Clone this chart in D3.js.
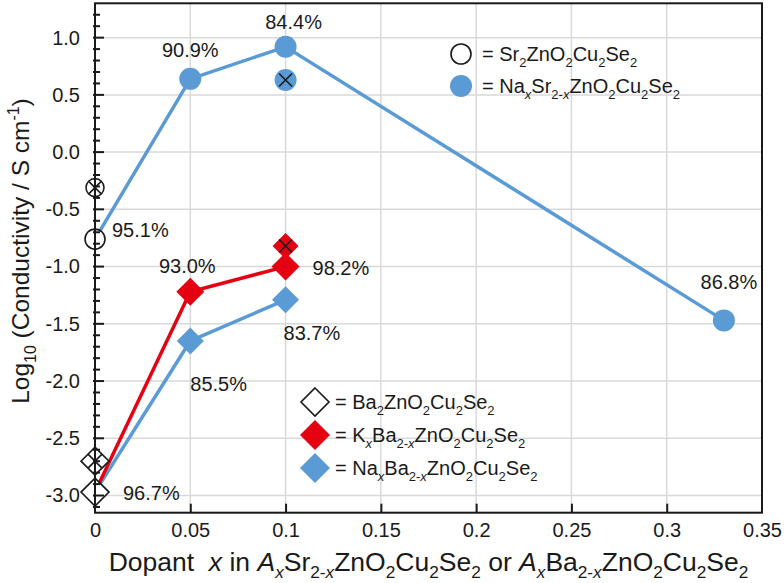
<!DOCTYPE html>
<html>
<head>
<meta charset="utf-8">
<script src="https://cdn.jsdelivr.net/npm/d3@7"></script>
<style>
  body { margin: 0; background: #fff; }
  text { font-family: "Liberation Sans", Arial, sans-serif; fill: #1a1a1a; white-space: pre; }
</style>
</head>
<body>
<div id="chart"></div>
<script>
// Sr compounds: x = 0 is undoped Sr2ZnO2Cu2Se2, the rest Na-doped
const srX = [0, 0.05, 0.1, 0.33];
const srY = [-0.76, 0.64, 0.92, -1.47];
const srPct = ["95.1%", "90.9%", "84.4%", "86.8%"];

// Ba compounds: x = 0 is undoped Ba2ZnO2Cu2Se2
const baX = [0, 0.05, 0.1];
const kBaY = [-2.97, -1.22, -1.0];
const kBaPct = ["96.7%", "93.0%", "98.2%"];
const naBaY = [-2.97, -1.65, -1.29];
const naBaPct = ["", "85.5%", "83.7%"];

// crossed symbols
const crossX = [0, 0.1, 0, 0.1];
const crossY = [-0.31, 0.63, -2.70, -0.82];
const crossKind = ["openCircle", "naCircle", "openDiamond", "kDiamond"];

// ticks
const xTicks = [0, 0.05, 0.1, 0.15, 0.2, 0.25, 0.3, 0.35];
const yTicks = [-3.0, -2.5, -2.0, -1.5, -1.0, -0.5, 0.0, 0.5, 1.0];

const W = 784, H = 583;
const blue = "#5b9bd5", red = "#e50012";

const svg = d3.select("#chart").append("svg")
    .attr("width", W)
    .attr("height", H);

const x = d3.scaleLinear().domain([0, 0.35]).range([95, 762]);
const y = d3.scaleLinear().domain([-3.15, 1.3]).range([512.7, 3.3]);

// rich text: parts are [text, kind], kind in "", "i", "sub", "subi", "sup"
function rich(sel, parts, size) {
    let shift = 0;
    parts.forEach(([t, kind]) => {
        const k = kind || "";
        const target = k.startsWith("sub") ? size * 0.28 : k === "sup" ? -size * 0.42 : 0;
        const ts = sel.append("tspan").text(t).attr("dy", target - shift);
        shift = target;
        if (k.startsWith("sub") || k === "sup") ts.attr("font-size", size * 0.65);
        if (k === "i" || k === "subi") ts.attr("font-style", "italic");
    });
}

// grid
svg.append("g")
    .selectAll("line")
    .data(xTicks.slice(1, -1))
    .join("line")
    .attr("x1", d => x(d)).attr("x2", d => x(d))
    .attr("y1", y(1.3)).attr("y2", y(-3.15))
    .attr("stroke", "#d9d9d9").attr("stroke-width", 1.5);

svg.append("g")
    .selectAll("line")
    .data(yTicks)
    .join("line")
    .attr("x1", x(0)).attr("x2", x(0.35))
    .attr("y1", d => y(d)).attr("y2", d => y(d))
    .attr("stroke", "#d9d9d9").attr("stroke-width", 1.5);

// lines
const line = d3.line().x(d => x(d[0])).y(d => y(d[1]));

svg.append("path")
    .datum(srX.map((v, i) => [v, srY[i]]))
    .attr("d", line)
    .attr("fill", "none").attr("stroke", blue).attr("stroke-width", 3.5);

svg.append("path")
    .datum(baX.map((v, i) => [v, naBaY[i]]))
    .attr("d", line)
    .attr("fill", "none").attr("stroke", blue).attr("stroke-width", 3.5);

svg.append("path")
    .datum(baX.map((v, i) => [v, kBaY[i]]))
    .attr("d", line)
    .attr("fill", "none").attr("stroke", red).attr("stroke-width", 3.5);

// marker helpers
function circle(cx, cy, r, fill) {
    svg.append("circle")
        .attr("cx", cx).attr("cy", cy).attr("r", r)
        .attr("fill", fill)
        .attr("stroke", fill === "#fff" ? "#1a1a1a" : "none")
        .attr("stroke-width", 1.6);
}
function diamond(cx, cy, h, fill) {
    svg.append("path")
        .attr("d", `M${cx},${cy - h}L${cx + h},${cy}L${cx},${cy + h}L${cx - h},${cy}Z`)
        .attr("fill", fill)
        .attr("stroke", fill === "#fff" ? "#1a1a1a" : "none")
        .attr("stroke-width", 1.6);
}
function cross(cx, cy, s) {
    svg.append("path")
        .attr("d", `M${cx - s},${cy - s}L${cx + s},${cy + s}M${cx - s},${cy + s}L${cx + s},${cy - s}`)
        .attr("stroke", "#1a1a1a").attr("stroke-width", 1.6);
}

// crossed symbols
crossX.forEach((v, i) => {
    const cx = x(v), cy = y(crossY[i]);
    const k = crossKind[i];
    if (k === "openCircle") { circle(cx, cy, 9, "#fff"); cross(cx, cy, 6); }
    if (k === "naCircle") { circle(cx, cy, 11, blue); cross(cx, cy, 6.5); }
    if (k === "openDiamond") { diamond(cx, cy, 14, "#fff"); cross(cx, cy, 7); }
    if (k === "kDiamond") { diamond(cx, cy, 13, red); cross(cx, cy, 6.5); }
});

// series markers
baX.forEach((v, i) => {
    if (i === 0) return;
    diamond(x(v), y(naBaY[i]), 13.5, blue);
});
baX.forEach((v, i) => {
    if (i === 0) return;
    diamond(x(v), y(kBaY[i]), 14, red);
});
diamond(x(baX[0]), y(kBaY[0]), 14, "#fff");

srX.forEach((v, i) => {
    circle(x(v), y(srY[i]), i === 0 ? 10 : 11, i === 0 ? "#fff" : blue);
});

// percentage labels: [dx, dy, anchor] relative to point
const srOff = [[17, -2, "start"], [0, -22, "middle"], [8, -18, "middle"], [5, -31, "middle"]];
const kOff = [[28, 8, "start"], [-3, -19, "middle"], [27, 8, "start"], null];
const naOff = [null, [0, 50, "start"], [-2, 40, "start"]];

function pctLabels(xs, ys, labels, offs) {
    xs.forEach((v, i) => {
        if (!labels[i] || !offs[i]) return;
        const o = offs[i];
        svg.append("text")
            .attr("x", x(v) + o[0])
            .attr("y", y(ys[i]) + o[1])
            .attr("text-anchor", o[2])
            .attr("font-size", 20)
            .text(labels[i]);
    });
}
pctLabels(srX, srY, srPct, srOff);
pctLabels(baX, kBaY, kBaPct, kOff);
pctLabels(baX, naBaY, naBaPct, naOff);

// axes: frame
svg.append("rect")
    .attr("x", x(0)).attr("y", y(1.3))
    .attr("width", x(0.35) - x(0)).attr("height", y(-3.15) - y(1.3))
    .attr("fill", "none").attr("stroke", "#1a1a1a").attr("stroke-width", 2);

// x axis
const xAxis = svg.append("g")
    .attr("transform", `translate(0,${y(-3.15)})`)
    .call(d3.axisBottom(x).tickValues(xTicks).tickSizeInner(-9).tickSizeOuter(0)
        .tickFormat(d => d === 0 ? "0" : String(+d.toFixed(2))));
xAxis.select(".domain").remove();
xAxis.selectAll(".tick line").attr("stroke", "#1a1a1a").attr("stroke-width", 2)
    .filter(d => d === 0 || d === 0.35).remove();
xAxis.selectAll(".tick text")
    .attr("y", 24.5).attr("dy", 0)
    .attr("font-size", 20).attr("font-family", null).attr("fill", "#1a1a1a");

// y axis ticks (major every 0.5, minor every 0.1)
svg.append("g")
    .selectAll("line")
    .data(d3.range(-31, 13).map(d => d / 10))
    .join("line")
    .attr("x1", x(0) - 2).attr("x2", d => x(0) + (Math.abs(d * 2 - Math.round(d * 2)) < 1e-6 ? 9 : 5))
    .attr("y1", d => y(d)).attr("y2", d => y(d))
    .attr("stroke", "#1a1a1a").attr("stroke-width", 2);

const yAxis = svg.append("g")
    .attr("transform", `translate(${x(0)},0)`)
    .call(d3.axisLeft(y).tickValues(yTicks).tickSize(0).tickPadding(15)
        .tickFormat(d => d.toFixed(1)));
yAxis.select(".domain").remove();
yAxis.selectAll(".tick text")
    .attr("font-size", 20).attr("font-family", null).attr("fill", "#1a1a1a");

// axis titles
const xTitle = svg.append("text")
    .attr("x", (x(0) + x(0.35)) / 2)
    .attr("y", 571)
    .attr("text-anchor", "middle")
    .attr("font-size", 26.5);
rich(xTitle, [["Dopant  "], ["x", "i"], [" in "], ["A", "i"], ["x", "subi"], ["Sr"], ["2-", "sub"], ["x", "subi"],
    ["ZnO"], ["2", "sub"], ["Cu"], ["2", "sub"], ["Se"], ["2", "sub"], [" or "], ["A", "i"], ["x", "subi"], ["Ba"],
    ["2-", "sub"], ["x", "subi"], ["ZnO"], ["2", "sub"], ["Cu"], ["2", "sub"], ["Se"], ["2", "sub"]], 26.5);

const yTitle = svg.append("text")
    .attr("transform", `translate(29,251) rotate(-90)`)
    .attr("text-anchor", "middle")
    .attr("font-size", 24.5);
rich(yTitle, [["Log"], ["10", "sub"], [" (Conductivity / S cm"], ["-1", "sup"], [")"]], 24.5);

// legend (upper)
circle(461, 54, 10, "#fff");
circle(461, 86, 11, blue);
rich(svg.append("text").attr("x", 482).attr("y", 61).attr("font-size", 20),
    [["= Sr"], ["2", "sub"], ["ZnO"], ["2", "sub"], ["Cu"], ["2", "sub"], ["Se"], ["2", "sub"]], 20);
rich(svg.append("text").attr("x", 482).attr("y", 93).attr("font-size", 20),
    [["= Na"], ["x", "subi"], ["Sr"], ["2-", "sub"], ["x", "subi"], ["ZnO"], ["2", "sub"], ["Cu"], ["2", "sub"], ["Se"], ["2", "sub"]], 20);

// legend (lower)
diamond(315, 402, 14, "#fff");
diamond(315, 435, 15, red);
diamond(315, 468, 15, blue);
rich(svg.append("text").attr("x", 335).attr("y", 409).attr("font-size", 20),
    [["= Ba"], ["2", "sub"], ["ZnO"], ["2", "sub"], ["Cu"], ["2", "sub"], ["Se"], ["2", "sub"]], 20);
rich(svg.append("text").attr("x", 335).attr("y", 442).attr("font-size", 20),
    [["= K"], ["x", "subi"], ["Ba"], ["2-", "sub"], ["x", "subi"], ["ZnO"], ["2", "sub"], ["Cu"], ["2", "sub"], ["Se"], ["2", "sub"]], 20);
rich(svg.append("text").attr("x", 335).attr("y", 475).attr("font-size", 20),
    [["= Na"], ["x", "subi"], ["Ba"], ["2-", "sub"], ["x", "subi"], ["ZnO"], ["2", "sub"], ["Cu"], ["2", "sub"], ["Se"], ["2", "sub"]], 20);
</script>
</body>
</html>
